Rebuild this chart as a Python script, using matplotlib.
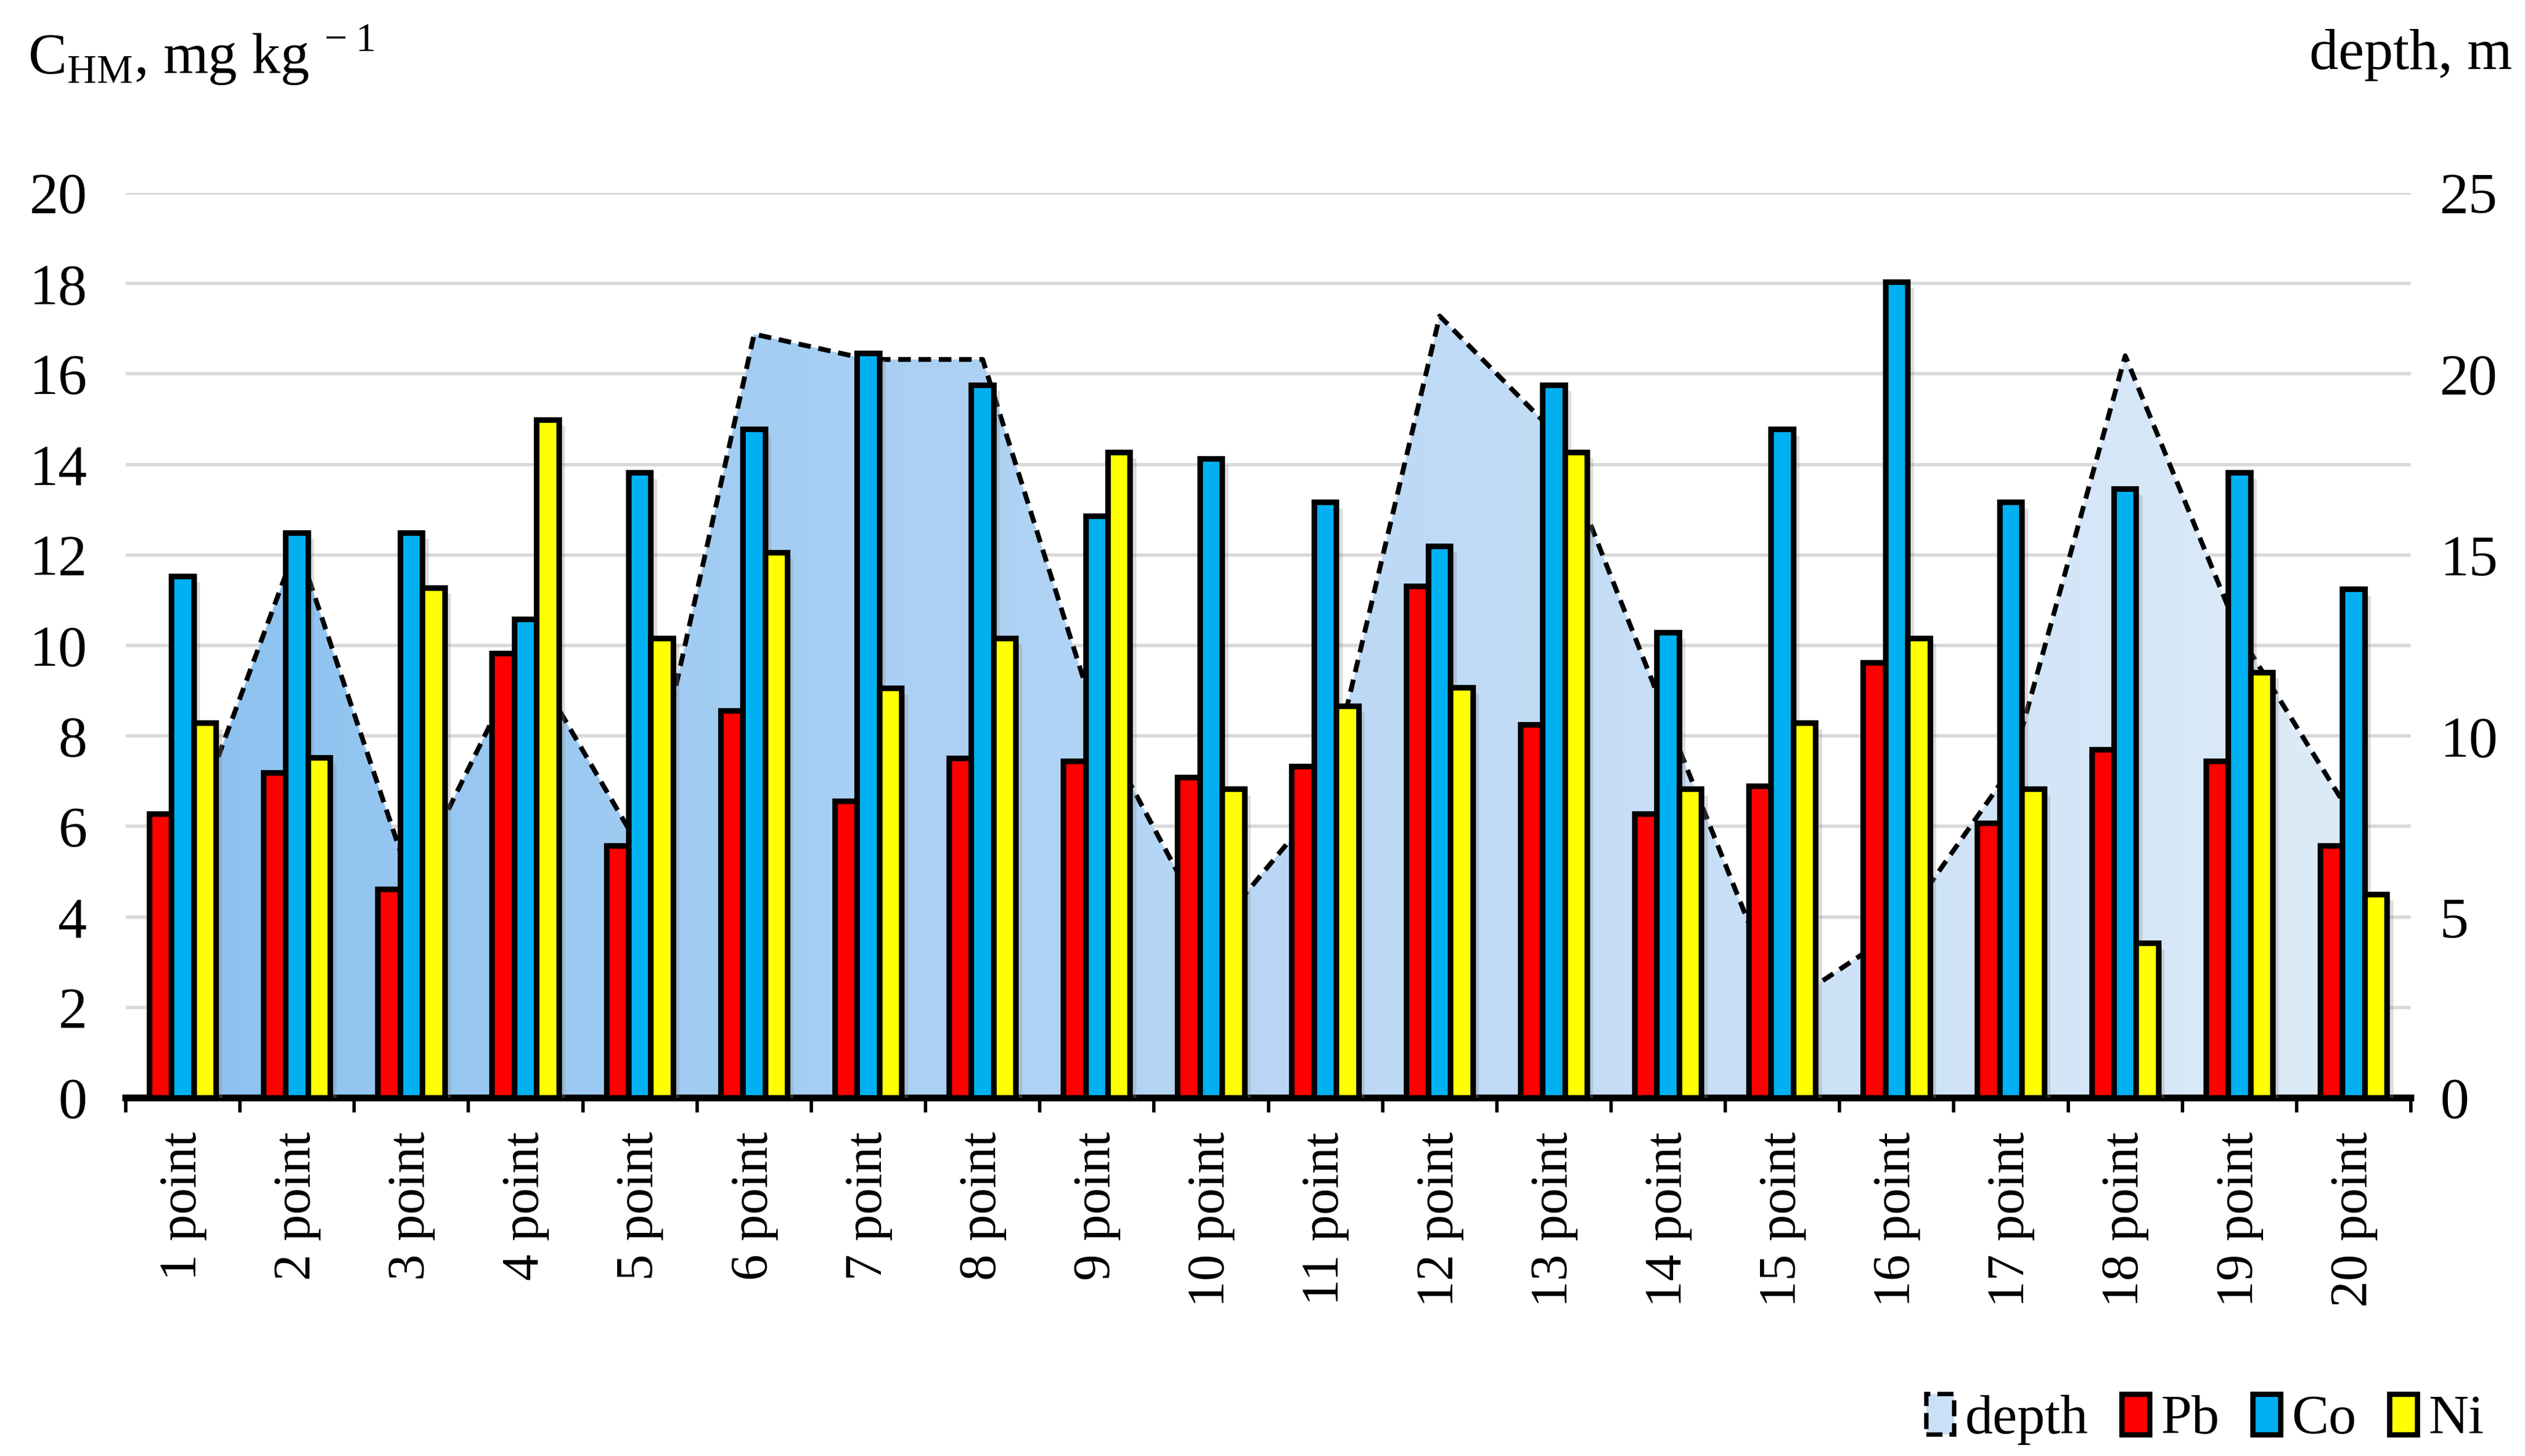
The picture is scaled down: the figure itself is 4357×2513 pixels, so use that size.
import numpy as np
import matplotlib.pyplot as plt
import matplotlib.patheffects as pe
from matplotlib.patches import Patch, Polygon
from matplotlib.colors import LinearSegmentedColormap

# Data
points = ["1 point", "2 point", "3 point", "4 point", "5 point", "6 point", "7 point",
          "8 point", "9 point", "10 point", "11 point", "12 point", "13 point", "14 point",
          "15 point", "16 point", "17 point", "18 point", "19 point", "20 point"]
pb = [6.27, 7.18, 4.61, 9.82, 5.57, 8.55, 6.55, 7.50, 7.44, 7.08,
      7.33, 11.30, 8.25, 6.27, 6.89, 9.62, 6.07, 7.70, 7.44, 5.57]
co = [11.53, 12.49, 12.49, 10.57, 13.81, 14.77, 16.45, 15.75, 12.85, 14.12,
      13.16, 12.19, 15.75, 10.28, 14.77, 18.03, 13.16, 13.46, 13.81, 11.24]
ni = [8.28, 7.52, 11.27, 14.98, 10.16, 12.05, 9.05, 10.16, 14.27, 6.82,
      8.65, 9.06, 14.27, 6.82, 8.28, 10.16, 6.82, 3.42, 9.40, 4.50]
depth = [6.8, 15.3, 5.9, 12.3, 6.9, 21.1, 20.4, 20.4, 10.4, 4.5,
         8.3, 21.6, 18.4, 10.4, 2.5, 4.6, 9.1, 20.5, 12.8, 7.7]

plt.rcParams['font.family'] = ['Liberation Serif', 'DejaVu Serif']
plt.rcParams['mathtext.fontset'] = 'custom'
plt.rcParams['mathtext.rm'] = 'Liberation Serif'

fig = plt.figure(figsize=(4357 / 300, 2513 / 300), dpi=300)
ax_d = fig.add_axes([0.0498, 0.2459, 0.905, 0.6216])
ax_c = ax_d.twinx()
ax_d.yaxis.tick_right()
ax_c.yaxis.tick_left()

x = np.arange(1, len(points) + 1)

# depth area with horizontal gradient
verts = [(x[0], 0)] + list(zip(x, depth)) + [(x[-1], 0)]
area = Polygon(verts, closed=True, facecolor='none', edgecolor='none')
ax_d.add_patch(area)
grad = np.linspace(0, 1, 256).reshape(1, -1)
cmap = LinearSegmentedColormap.from_list('depth', ['#8CC2F0', '#B9D7F5', '#DDEBF8'])
im = ax_d.imshow(grad, extent=[x[0], x[-1], 0, 25], aspect='auto', cmap=cmap,
                 origin='lower', zorder=2, interpolation='bilinear')
im.set_clip_path(area)
ax_d.plot(x, depth, color='black', ls=(0, (2.6, 1.6)), lw=2.0, zorder=3)

ax_d.set_xlim(0.5, len(points) + 0.5)
ax_d.set_ylim(0, 25)
ax_c.set_ylim(0, 20)

# bars
w = 0.195
shadow = [pe.SimplePatchShadow(offset=(2.5, -2.5), shadow_rgbFace='#909090', alpha=0.3), pe.Normal()]
for vals, off, col in [(pb, -w, '#FF0000'), (co, 0, '#00B0F0'), (ni, w, '#FFFF00')]:
    bars = ax_c.bar(x + off, vals, width=w, color=col, edgecolor='black', linewidth=2.3, zorder=3)
    for b in bars:
        b.set_path_effects(shadow)

# gridlines on the depth axis (behind the area)
ax_d.set_yticks(np.arange(0, 25.1, 5))
ax_d.set_yticks(np.arange(2.5, 25, 5), minor=True)
ax_d.grid(axis='y', which='both', color='#D9D9D9', lw=1.4, zorder=0)
ax_d.set_axisbelow(True)
ax_d.tick_params(axis='y', which='both', length=0, labelsize=24, pad=12)

ax_c.set_yticks(np.arange(0, 20.1, 2))
ax_c.tick_params(axis='y', length=0, labelsize=24, pad=16)

# category axis: ticks between categories, labels at centers
ax_d.set_xticks(np.arange(0.5, len(points) + 1, 1))
ax_d.set_xticklabels([])
ax_d.set_xticks(x, minor=True)
ax_d.set_xticklabels(points, minor=True, rotation=90, fontsize=22)
ax_d.tick_params(axis='x', which='major', length=6, width=1.4, color='black', direction='out')
ax_d.tick_params(axis='x', which='minor', length=0, pad=14)

for s in ['top', 'left', 'right']:
    ax_d.spines[s].set_visible(False)
for s in ax_c.spines.values():
    s.set_visible(False)
ax_d.spines['bottom'].set_linewidth(2.8)
ax_d.spines['bottom'].set_zorder(5)

fig.text(0.011, 0.962, r'C$_{\mathrm{HM}}$, mg kg$^{\,-1}$', fontsize=24, va='center')
fig.text(0.995, 0.962, 'depth, m', fontsize=24, va='center', ha='right')

handles = [Patch(facecolor='#C9E0F7', edgecolor='black', linestyle='--', linewidth=1.8),
           Patch(facecolor='#FF0000', edgecolor='black', linewidth=2.2),
           Patch(facecolor='#00B0F0', edgecolor='black', linewidth=2.2),
           Patch(facecolor='#FFFF00', edgecolor='black', linewidth=2.2)]
fig.legend(handles, ['depth', 'Pb', 'Co', 'Ni'], loc='center right', bbox_to_anchor=(0.997, 0.025),
           ncol=4, frameon=False, fontsize=23, handlelength=0.5, handleheight=0.75,
           columnspacing=0.6, handletextpad=0.2, borderpad=0.1)

fig.savefig('out.png', dpi=300)
